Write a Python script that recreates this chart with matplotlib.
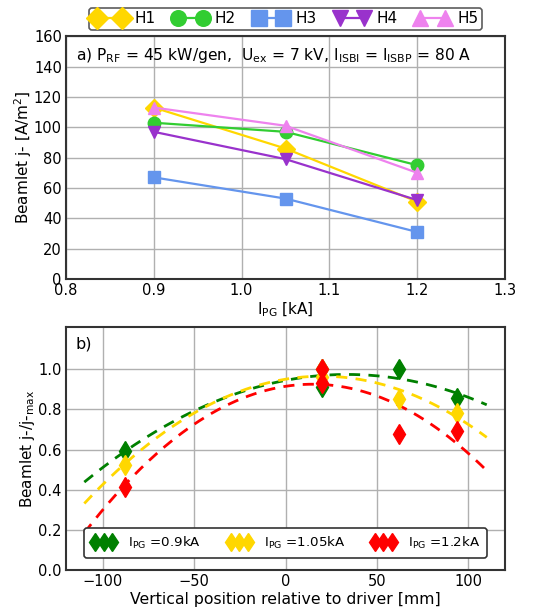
import numpy as np
import matplotlib
matplotlib.use('Agg')
import matplotlib.pyplot as plt

plt.rcParams['font.family'] = ['DejaVu Sans']
plt.rcParams['font.size'] = 11

# dados do painel a)
i_pg = [0.9, 1.05, 1.2]
nomes = ['H1', 'H2', 'H3', 'H4', 'H5']
j_H1 = [113, 86, 51]
j_H2 = [103, 97, 75]
j_H3 = [67, 53, 31]
j_H4 = [97, 79, 52]
j_H5 = [113, 101, 70]
cores = ['#FFD700', '#32CD32', '#6495ED', '#9932CC', '#EE82EE']
marcadores = ['D', 'o', 's', 'v', '^']

# posicao vertical de cada beamlet (H1..H5) em mm
pos_vert = [62, 20, -88, 94, 20]
rotulos_b = ['$\\mathregular{I_{PG}}$ =0.9kA', '$\\mathregular{I_{PG}}$ =1.05kA',
             '$\\mathregular{I_{PG}}$ =1.2kA']
cores_b = ['green', '#FFD700', 'red']

fig = plt.figure(figsize=(5.38, 6.10), dpi=100)
ax1 = fig.add_axes([0.1227, 0.5426, 0.816, 0.398])
ax2 = fig.add_axes([0.1227, 0.0656, 0.816, 0.398])

series = [j_H1, j_H2, j_H3, j_H4, j_H5]
for s, nome, c, m in zip(series, nomes, cores, marcadores):
  ax1.plot(i_pg, s, color=c, marker=m, markersize=9, lw=1.6, label=nome)

ax1.set_xlim(0.8, 1.3)
ax1.set_ylim(0, 160)
ax1.set_yticks(np.arange(0, 161, 20))
ax1.set_xticks(np.arange(0.8, 1.31, 0.1))
ax1.set_xlabel('$\\mathregular{I_{PG}}$ [kA]', labelpad=2)
ax1.set_ylabel('Beamlet j- [A/m$^2$]', labelpad=0)
ax1.text(0.022, 0.96, 'a) $\\mathregular{P_{RF}}$ = 45 kW/gen,  $\\mathregular{U_{ex}}$ = 7 kV, '
         '$\\mathregular{I_{ISBI}}$ = $\\mathregular{I_{ISBP}}$ = 80 A',
         transform=ax1.transAxes, ha='left', va='top', fontsize=11.2)
leg1 = ax1.legend(loc='lower center', bbox_to_anchor=(0.5, 1.025), borderaxespad=0,
                  ncol=5, numpoints=2, frameon=True, fontsize=11, handlelength=2.2,
                  columnspacing=1.2, handletextpad=0.5, borderpad=0.25, markerscale=1.25)
leg1.get_frame().set_edgecolor('#333333')
leg1.get_frame().set_linewidth(1.2)

# painel b): j normalizado pelo maximo de cada corrente
matriz = np.array(series, dtype=float)
fit_x = np.linspace(-110, 110, 200)
for k in range(3):
  y = matriz[:, k] / matriz[:, k].max()
  coef = np.polyfit(pos_vert, y, 2)
  ax2.plot(fit_x, np.polyval(coef, fit_x), '--', color=cores_b[k], lw=2, dashes=(4, 3))
for k in range(3):
  y = matriz[:, k] / matriz[:, k].max()
  ax2.plot(pos_vert, y, 'd', color=cores_b[k], markersize=10, ls='none', label=rotulos_b[k])

ax2.set_xlim(-120, 120)
ax2.set_ylim(0, 1.21)
ax2.set_yticks(np.arange(0, 1.01, 0.2))
ax2.set_xticks([-100, -50, 0, 50, 100])
ax2.set_xlabel('Vertical position relative to driver [mm]', labelpad=2, fontsize=11.3)
ax2.set_ylabel('Beamlet j-/j-$_{\\mathregular{max}}$', labelpad=1)
ax2.text(0.022, 0.96, 'b)', transform=ax2.transAxes, ha='left', va='top', fontsize=11.5)
leg2 = ax2.legend(loc='lower center', bbox_to_anchor=(0.5, 0.05), borderaxespad=0,
                  ncol=3, numpoints=3, frameon=True, fontsize=9.6, handlelength=1.9,
                  columnspacing=1.9, handletextpad=0.9, borderpad=0.5, framealpha=1,
                  markerscale=0.95)
leg2.get_frame().set_edgecolor('#333333')
leg2.get_frame().set_linewidth(1.2)

for ax in (ax1, ax2):
  ax.grid(True, color='#b0b0b0', lw=1)
  ax.set_axisbelow(True)
  ax.tick_params(direction='in', length=0, pad=3, labelsize=10.5)
  for sp in ax.spines.values():
    sp.set_color('#333333')
    sp.set_linewidth(1.5)

fig.savefig('out.png', dpi=100)
